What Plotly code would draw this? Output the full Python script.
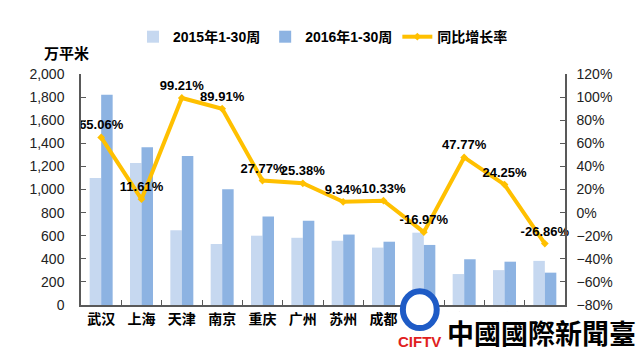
import plotly.graph_objects as go

cities = ["武汉", "上海", "天津", "南京", "重庆", "广州", "苏州", "成都", "北京", "杭州", "厦门", "深圳"]
area_2015 = [1100, 1230, 647, 528, 600, 582, 557, 497, 626, 268, 302, 382]
area_2016 = [1820, 1366, 1290, 1003, 766, 730, 610, 548, 520, 396, 375, 280]
growth = [0.6506, 0.1161, 0.9921, 0.8991, 0.2777, 0.2538, 0.0934, 0.1033, -0.1697, 0.4777, 0.2425, -0.2686]

num_font = "Liberation Sans, Arial, sans-serif"
cjk_font = "Noto Sans CJK SC, sans-serif"
axis_col = "#595959"

fig = go.Figure()
fig.add_trace(go.Bar(x=cities, y=area_2015, name="2015年1-30周", marker_color="#C6D8F0",
                     marker_line_width=0))
fig.add_trace(go.Bar(x=cities, y=area_2016, name="2016年1-30周", marker_color="#8DB3E2",
                     marker_line_width=0))
fig.add_trace(go.Scatter(x=cities, y=growth, name="同比增长率", yaxis="y2",
                         mode="lines+markers+text",
                         line=dict(color="#FFC000", width=4),
                         marker=dict(color="#FFC000", size=6, symbol="diamond"),
                         texttemplate="%{y:.2%}", textposition="top center",
                         textfont=dict(family=num_font, size=13, color="black", weight="bold"),
                         cliponaxis=False))

fig.update_layout(
    width=643, height=354,
    margin=dict(l=81, r=78, t=74, b=49),
    plot_bgcolor="white", paper_bgcolor="white",
    barmode="group", bargap=0.43, bargroupgap=0,
    showlegend=True,
    legend=dict(orientation="h", x=0.5, xanchor="center", y=0.85, yanchor="bottom",
                yref="container", font=dict(family=num_font + ", " + cjk_font, size=14,
                                            color="black", weight="bold"),
                itemwidth=30, tracegroupgap=0),
    xaxis=dict(showline=True, linecolor=axis_col, linewidth=1.5, ticks="inside",
               tickson="boundaries", ticklen=5, tickcolor=axis_col,
               tickfont=dict(family=cjk_font, size=14, color="black", weight="bold"),
               range=[-0.5, 11.5]),
    yaxis=dict(range=[0, 2000], dtick=200, tickformat=",", showgrid=False, zeroline=False,
               showline=True, linecolor=axis_col, linewidth=1.5, ticks="inside", ticklen=5,
               tickcolor=axis_col, ticklabelstandoff=12,
               tickfont=dict(family=num_font, size=14, color="#222")),
    yaxis2=dict(range=[-0.8, 1.2], dtick=0.2, tickformat=".0%", overlaying="y", side="right",
                showgrid=False, zeroline=False, showline=True, linecolor=axis_col,
                linewidth=1.5, ticks="inside", ticklen=5, tickcolor=axis_col,
                ticklabelstandoff=7,
                tickfont=dict(family=num_font, size=14, color="#222")),
)

fig.add_annotation(text="万平米", xref="paper", yref="paper", x=-0.03, y=1.04,
                   xanchor="center", yanchor="bottom", showarrow=False,
                   font=dict(family=cjk_font, size=15, color="black", weight="bold"))

# watermark
fig.add_shape(type="rect", xref="paper", yref="paper", x0=0.66, x1=1.16, y0=-0.20, y1=-0.07,
              fillcolor="white", line_width=0, layer="above")
fig.add_shape(type="circle", xref="paper", yref="paper", x0=0.665, x1=0.735, y0=-0.10, y1=0.06,
              fillcolor="white", line=dict(color="#1E5BC6", width=6), layer="above")
fig.add_annotation(text="CIFTV", xref="paper", yref="paper", x=0.70, y=-0.205,
                   xanchor="center", yanchor="bottom", showarrow=False,
                   font=dict(family=num_font, size=15, color="#E02020", weight="bold"))
fig.add_annotation(text="中國國際新聞臺", xref="paper", yref="paper", x=1.15, y=-0.21,
                   xanchor="right", yanchor="bottom", showarrow=False, bgcolor="white",
                   font=dict(family="Noto Sans CJK TC, sans-serif", size=27, color="black",
                             weight="bold"))

fig.write_html("out.html")
